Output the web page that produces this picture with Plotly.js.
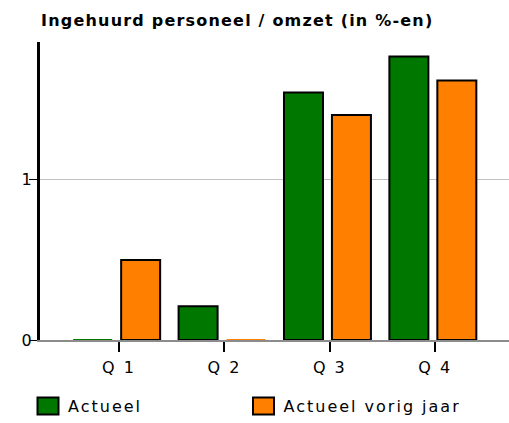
<!DOCTYPE html>
<html>
<head>
<meta charset="utf-8">
<script src="https://cdn.plot.ly/plotly-3.0.1.min.js"></script>
<style>
html,body{margin:0;padding:0;background:#fff;}
#chart{width:509px;height:423px;}
#chart .legendtext{letter-spacing:2px;}
#chart .xtick text{letter-spacing:2px;}
#chart .gtitle{letter-spacing:1.2px;}
</style>
</head>
<body>
<div id="chart"></div>
<script>
const categories = ["Q 1", "Q 2", "Q 3", "Q 4"];
const actueel = [0, 0.21, 1.545, 1.77];
const actueelVorigJaar = [0.5, 0, 1.405, 1.62];
const seriesNames = ["Actueel", "Actueel vorig jaar"];
const titleText = "Ingehuurd personeel / omzet (in %-en)";

const FONT = "DejaVu Sans, Verdana, sans-serif";
const GREEN = "#007800", ORANGE = "#ff8000";

function outline(values, fill) {
  return values.map(v => v === 0 ? fill : "#000");
}

const traces = [
  {
    type: "bar", name: seriesNames[0], x: categories, y: actueel,
    offset: -0.435, width: 0.37,
    marker: {color: GREEN, line: {color: outline(actueel, GREEN), width: 2}},
    hoverinfo: "x+y"
  },
  {
    type: "bar", name: seriesNames[1], x: categories, y: actueelVorigJaar,
    offset: 0.02, width: 0.37,
    marker: {color: ORANGE, line: {color: outline(actueelVorigJaar, ORANGE), width: 2}},
    hoverinfo: "x+y"
  }
];

const layout = {
  width: 509, height: 423,
  margin: {l: 40, r: 0, t: 42, b: 82, pad: 0},
  paper_bgcolor: "#fff", plot_bgcolor: "#fff",
  font: {family: FONT, size: 16, color: "#000"},
  title: {
    text: "<b>" + titleText + "</b>",
    font: {family: FONT, size: 16, color: "#000"},
    xref: "container", yref: "container",
    x: 41/509, xanchor: "left",
    y: 1 - 20/423, yanchor: "middle"
  },
  barmode: "group",
  showlegend: true,
  legend: {
    orientation: "h", x: (28 - 40)/469, xanchor: "left",
    y: -(407-341)/299, yanchor: "middle",
    entrywidth: 170.5, entrywidthmode: "pixels",
    font: {family: FONT, size: 16, color: "#000"},
    itemwidth: 30
  },
  xaxis: {
    type: "category", range: [-0.75, 3.70],
    showline: true, linecolor: "#8c8c8c", linewidth: 2,
    ticks: "outside", ticklen: 10, tickwidth: 2, tickcolor: "#000",
    ticklabelstandoff: 2,
    showgrid: false, zeroline: false,
    tickfont: {family: FONT, size: 16, color: "#000"},
    fixedrange: true
  },
  yaxis: {
    range: [0, 1.86],
    tickvals: [0, 1], ticktext: ["0", "1"],
    showline: true, linecolor: "#000", linewidth: 3,
    ticks: "outside", ticklen: 8, tickwidth: 1, tickcolor: "#000",
    ticklabelstandoff: -6,
    showgrid: true, gridcolor: "#c0c0c0", gridwidth: 1,
    zeroline: false,
    tickfont: {family: FONT, size: 16, color: "#000"},
    fixedrange: true
  }
};

Plotly.newPlot("chart", traces, layout, {displayModeBar: false, staticPlot: true}).then(gd => {
  // enlarge legend swatches to match the reference's 21x17 boxes
  gd.querySelectorAll(".legendpoints path").forEach(p => {
    p.setAttribute("d", "M10.5,8.5H-10.5V-8.5H10.5Z");
    p.style.stroke = "#000";
    p.style.strokeWidth = "2px";
  });
});
</script>
</body>
</html>
